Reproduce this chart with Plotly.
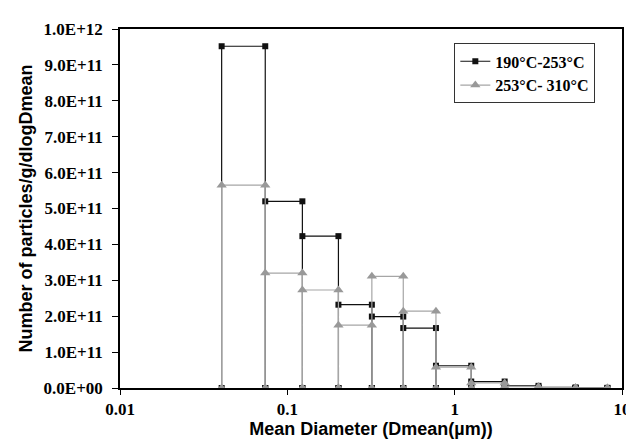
import plotly.graph_objects as go

# Bin edges (mean diameter, µm)
edges = [0.0405, 0.0738, 0.123, 0.202, 0.320, 0.493, 0.773, 1.256, 1.99, 3.17, 5.28, 8.18]
# Number of particles/g/dlogDmean for each bin
s1_name = "190°C-253°C"
s1_vals = [9.52e11, 5.20e11, 4.23e11, 2.32e11, 1.99e11, 1.67e11, 6.2e10, 1.8e10, 6.0e9, 1.5e9, 5e8]
s2_name = "253°C- 310°C"
s2_vals = [5.65e11, 3.20e11, 2.73e11, 1.75e11, 3.11e11, 2.14e11, 5.8e10, 1.4e10, 4.0e9, 1.0e9, 3e8]

y_ticks = [i * 1e11 for i in range(11)]
y_ticktext = ["0.0E+00"] + [f"{i}.0E+11" for i in range(1, 10)] + ["1.0E+12"]
x_ticks = [0.01, 0.1, 1, 10]
x_ticktext = ["0.01", "0.1", "1", "10"]


def step_path(e, v):
    xs, ys = [], []
    for i, val in enumerate(v):
        xs += [e[i], e[i], e[i + 1], e[i + 1]]
        ys += [0, val, val, 0]
    return xs, ys


fig = go.Figure()
x1, y1 = step_path(edges, s1_vals)
x2, y2 = step_path(edges, s2_vals)
fig.add_trace(go.Scatter(x=x1, y=y1, mode="lines+markers", name=f"<b>{s1_name}</b>",
                         line=dict(color="#111111", width=1.2),
                         marker=dict(symbol="square", size=6, color="#111111")))
fig.add_trace(go.Scatter(x=x2, y=y2, mode="lines+markers", name=f"<b>{s2_name}</b>",
                         line=dict(color="#a6a6a6", width=1.2),
                         marker=dict(symbol="triangle-up", size=9, color="#999999")))

tickfont = dict(family="Liberation Serif", size=17, color="black")
titlefont = dict(family="Liberation Sans", size=18, color="black")

fig.update_layout(
    width=634, height=439,
    margin=dict(l=111.5, r=11, t=20.7, b=53.3),
    paper_bgcolor="white", plot_bgcolor="white",
    showlegend=True,
    legend=dict(x=0.666, y=0.96, xanchor="left", yanchor="top",
                bordercolor="#333333", borderwidth=1, bgcolor="white",
                font=dict(family="Liberation Serif", size=16, color="black"),
                tracegroupgap=0, itemwidth=30),
    font=dict(family="Liberation Serif", size=16, color="black"),
)
fig.update_xaxes(type="log", range=[-2, 1], tickvals=x_ticks,
                 ticktext=[f"<b>{t}</b>" for t in x_ticktext],
                 tickfont=tickfont, ticks="outside", ticklen=5, tickcolor="black",
                 ticklabeloverflow="allow",
                 showline=True, linecolor="black", linewidth=1.5, mirror=True,
                 showgrid=False, zeroline=False,
                 title=dict(text="<b>Mean Diameter (Dmean(µm))</b>", font=titlefont, standoff=4))
fig.update_yaxes(range=[0, 1e12], tickvals=y_ticks,
                 ticktext=[f"<b>{t}</b>" for t in y_ticktext],
                 tickfont=tickfont, ticks="outside", ticklen=6, tickcolor="black",
                 ticklabelstandoff=6,
                 showline=True, linecolor="black", linewidth=1.5, mirror=True,
                 showgrid=False, zeroline=False,
                 title=dict(text="<b>Number of particles/g/dlogDmean</b>", font=titlefont, standoff=6))

fig.write_html("out.html")
